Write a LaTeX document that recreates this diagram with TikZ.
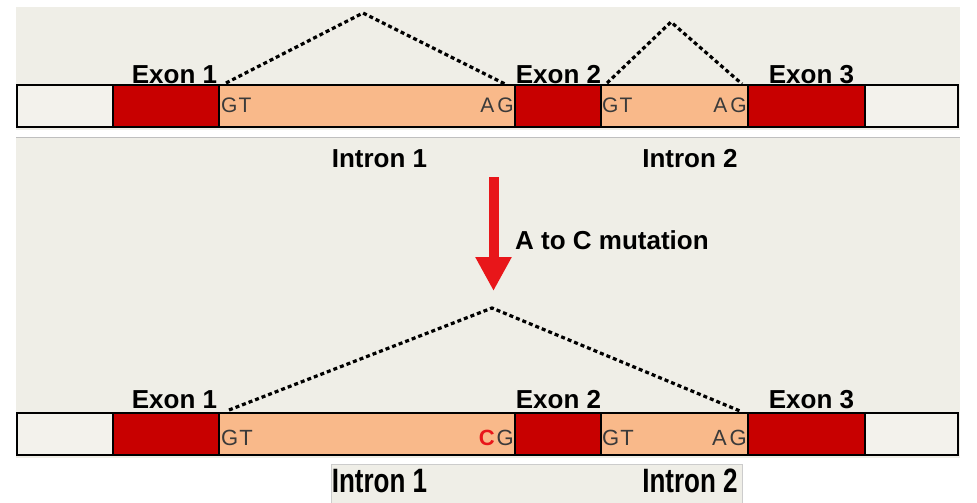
\documentclass[tikz,border=0pt]{standalone}
\usepackage{fontspec}
\setmainfont{Liberation Sans}
\usetikzlibrary{arrows.meta}
\definecolor{bgc}{HTML}{EFEEE7}
\definecolor{utrc}{HTML}{F3F2EC}
\definecolor{exonc}{HTML}{C80000}
\definecolor{intronc}{HTML}{F9B98A}
\definecolor{arrowc}{HTML}{E8161A}
\definecolor{seqc}{HTML}{3A3A3A}
\tikzset{
  seg/.style={draw=black, line width=1.6pt, inner sep=0pt, outer sep=0pt, anchor=north west, minimum height=42pt},
  utr/.style={seg, fill=utrc},
  exon/.style={seg, fill=exonc},
  intron/.style={seg, fill=intronc},
  lab/.style={font=\bfseries\fontsize{26}{26}\selectfont, anchor=base, inner sep=0pt},
  seq/.style={font=\fontsize{21}{21}\selectfont, text=seqc, inner sep=0pt},
  seqb/.style={font=\fontsize{22}{22}\selectfont, text=seqc, inner sep=0pt},
  splice/.style={line width=3.2pt, dash pattern=on 4pt off 3pt, black},
  outline/.style={draw=black, line width=2.6pt}
}
\begin{document}
\begin{tikzpicture}[x=1pt,y=-1pt]
\useasboundingbox (0,0) rectangle (977,503);
\fill[white] (0,0) rectangle (977,503);
% backgrounds
\fill[bgc] (16,7) rectangle (960,130);
\draw[gray!50, line width=1pt] (16,137) -- (960,137);
\fill[bgc] (16,138) rectangle (960,458);
\fill[bgc] (331,464) rectangle (742,503);
\draw[gray!40, line width=0.8pt] (331,503) -- (331,464) -- (742,464) -- (742,503);

% ---------- top gene ----------
\node[utr, minimum width=96pt] (tu5) at (17,85) {};
\node[exon, minimum width=106pt] (te1) at (113,85) {};
\node[intron, minimum width=296pt] (ti1) at (219,85) {};
\node[exon, minimum width=86pt] (te2) at (515,85) {};
\node[intron, minimum width=147pt] (ti2) at (601,85) {};
\node[exon, minimum width=117pt] (te3) at (748,85) {};
\node[utr, minimum width=93pt] (tu3) at (865,85) {};
\draw[outline] (tu5.north west) rectangle (tu3.south east);

\node[seq, anchor=base west] (tgt1) at (221,112) {G\kern1ptT};
\node[seq, anchor=base east] (tag1) at (514,112) {A\kern3ptG};
\node[seq, anchor=base west] (tgt2) at (602,112) {G\kern1ptT};
\node[seq, anchor=base east] (tag2) at (747,112) {A\kern3ptG};

\node[lab] (tx1) at (174.5,83) {Exon 1};
\node[lab] (tx2) at (558.5,83) {Exon 2};
\node[lab] (tx3) at (811.5,83) {Exon 3};
\node[lab] (tn1) at (379.5,167) {Intron 1};
\node[lab] (tn2) at (690,167) {Intron 2};

\coordinate (s1a) at (226,83);
\coordinate (s1p) at (363,13);
\coordinate (s1b) at (505,84);
\coordinate (s2a) at (607,83);
\coordinate (s2p) at (671,22);
\coordinate (s2b) at (742,84);
\draw[splice] (s1a) -- (s1p) -- (s1b);
\draw[splice] (s2a) -- (s2p) -- (s2b);

% ---------- arrow ----------
\coordinate (arA) at (493.5,177);
\coordinate (arB) at (493.5,291);
\draw[arrowc, line width=10pt, -{Triangle[width=34pt,length=34pt]}] (arA) -- (arB);
\node[lab, anchor=base west] (mut) at (515,249) {A to C mutation};

% ---------- bottom gene ----------
\node[utr, minimum width=96pt] (bu5) at (17,413) {};
\node[exon, minimum width=106pt] (be1) at (113,413) {};
\node[intron, minimum width=296pt] (bi1) at (219,413) {};
\node[exon, minimum width=86pt] (be2) at (515,413) {};
\node[intron, minimum width=147pt] (bi2) at (601,413) {};
\node[exon, minimum width=117pt] (be3) at (748,413) {};
\node[utr, minimum width=93pt] (bu3) at (865,413) {};
\draw[outline] (bu5.north west) rectangle (bu3.south east);

\node[seqb, anchor=base west] (bgt1) at (221,445) {G\kern1ptT};
\node[seqb, anchor=base east] (bcg1) at (514,445) {\textcolor{arrowc}{\bfseries C}\kern2ptG};
\node[seqb, anchor=base west] (bgt2) at (602,445) {G\kern1ptT};
\node[seqb, anchor=base east] (bag2) at (747,445) {A\kern3ptG};

\node[lab] (bx1) at (174.5,408) {Exon 1};
\node[lab] (bx2) at (558.5,408) {Exon 2};
\node[lab] (bx3) at (811.5,408) {Exon 3};
\node[lab] (bn1) at (379.5,492) {\scalebox{1}[1.3]{Intron 1}};
\node[lab] (bn2) at (690,492) {\scalebox{1}[1.3]{Intron 2}};

\coordinate (s3a) at (229,410);
\coordinate (s3p) at (492,308);
\coordinate (s3b) at (740,411);
\draw[splice] (s3a) -- (s3p) -- (s3b);
\end{tikzpicture}
\end{document}
